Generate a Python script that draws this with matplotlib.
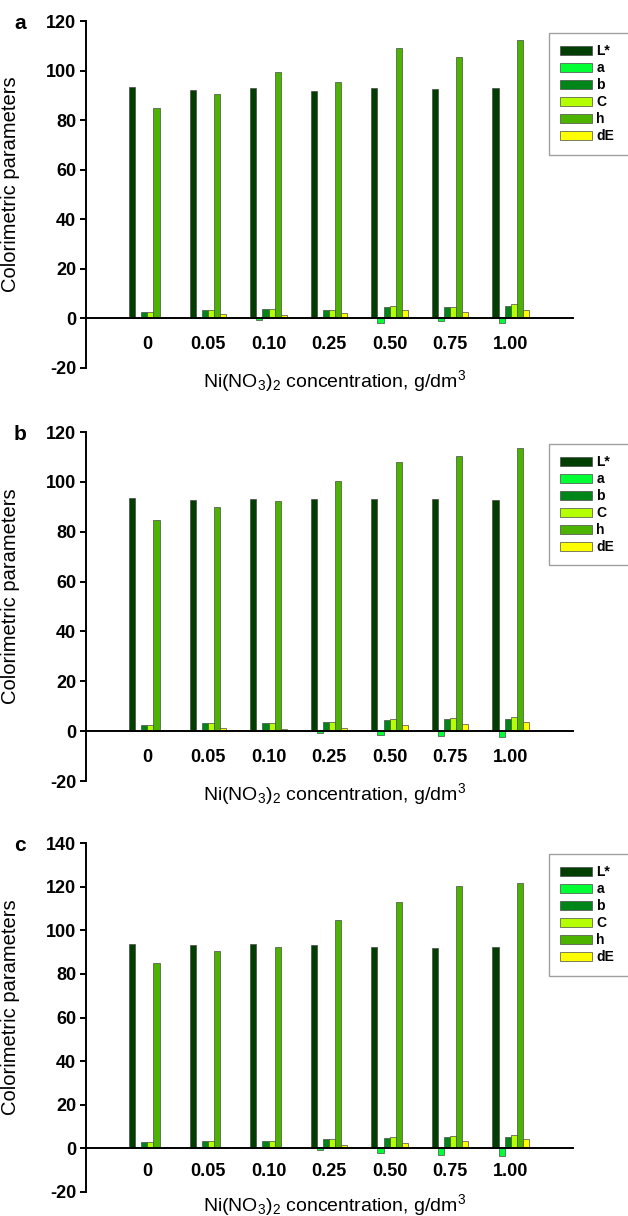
import numpy as np
import matplotlib
matplotlib.use("Agg")
import matplotlib.pyplot as plt

plt.rcParams["font.family"] = ["Liberation Sans", "DejaVu Sans"]
plt.rcParams["mathtext.default"] = "regular"
plt.rcParams["axes.unicode_minus"] = False

# concentrations of Ni(NO3)2, g/dm3
cats = ["0", "0.05", "0.10", "0.25", "0.50", "0.75", "1.00"]
params = ["L*", "a", "b", "C", "h", "dE"]
colors = ["#003f00", "#00ff33", "#008518", "#b4ff00", "#4cb400", "#ffff00"]

# panel a
L_a = [93.5, 92.1, 93.1, 91.7, 92.9, 92.6, 92.9]
a_a = [0.0, 0.0, -0.6, 0.0, -1.8, -1.2, -2.0]
b_a = [2.4, 3.3, 3.9, 3.2, 4.8, 4.6, 5.1]
C_a = [2.4, 3.3, 3.9, 3.2, 5.2, 4.7, 5.8]
h_a = [84.7, 90.4, 99.5, 95.5, 109.2, 105.3, 112.2]
dE_a = [0.0, 1.9, 1.5, 2.2, 3.2, 2.6, 3.6]

# panel b
L_b = [93.6, 92.8, 93.2, 93.2, 93.2, 93.3, 92.8]
a_b = [0.0, 0.0, 0.0, -0.8, -1.7, -1.9, -2.4]
b_b = [2.4, 3.2, 3.4, 3.8, 4.5, 4.8, 5.0]
C_b = [2.4, 3.2, 3.4, 3.8, 4.8, 5.2, 5.5]
h_b = [84.8, 90.0, 92.4, 100.2, 107.8, 110.3, 113.6]
dE_b = [0.0, 1.1, 0.8, 1.4, 2.4, 2.8, 3.5]

# panel c
L_c = [93.5, 93.3, 93.6, 93.3, 92.3, 91.9, 92.3]
a_c = [0.0, 0.0, 0.0, -0.9, -2.0, -3.2, -3.4]
b_c = [2.7, 3.5, 3.5, 4.2, 4.6, 5.0, 5.4]
C_c = [2.7, 3.5, 3.5, 4.4, 5.0, 5.8, 6.3]
h_c = [85.0, 90.3, 92.4, 104.7, 113.0, 120.4, 121.8]
dE_c = [0.0, 0.5, 0.6, 1.5, 2.3, 3.6, 4.3]

W, H = 628, 1216
fig = plt.figure(figsize=(W / 100, H / 100), dpi=100)

# (letter, series, ymax, top px, bottom px, legend top px)
panels = [
    ("a", [L_a, a_a, b_a, C_a, h_a, dE_a], 120, 21, 368, 33),
    ("b", [L_b, a_b, b_b, C_b, h_b, dE_b], 120, 432, 781, 444),
    ("c", [L_c, a_c, b_c, C_c, h_c, dE_c], 140, 843, 1192, 854),
]

x = np.arange(len(cats))
bw = 0.1

for letter, series, ymax, top, bot, leg_top in panels:
    ax = fig.add_axes([86 / W, 1 - bot / H, 487 / W, (bot - top) / H])
    for k, vals in enumerate(series):
        ax.bar(x + (k - 2.5) * bw, vals, bw, color=colors[k],
               edgecolor="#4a4a4a", linewidth=0.5, label=params[k])
    ax.set_xlim(-1.015, 7.03)
    ax.set_ylim(-20, ymax)
    ax.set_yticks(np.arange(-20, ymax + 1, 20))
    ax.set_xticks(x)
    ax.set_xticklabels(cats)
    for s in ["top", "right"]:
        ax.spines[s].set_visible(False)
    ax.spines["bottom"].set_position(("data", 0))
    ax.spines["bottom"].set_linewidth(1.4)
    ax.spines["left"].set_linewidth(1.4)
    px20 = (bot - top) / ((ymax + 20) / 20)
    ax.tick_params(axis="x", length=0, pad=(px20 / 2 - 7.5) * 0.72,
                   labelsize=13)
    ax.tick_params(axis="y", direction="out", length=4, width=1.4,
                   labelsize=13, pad=3)
    for t in ax.get_xticklabels() + ax.get_yticklabels():
        t.set_fontweight("bold")
    ax.set_ylabel("Colorimetric parameters", fontsize=14.5)
    ax.yaxis.set_label_coords(-0.135, 0.53)
    ax.set_xlabel(r"Ni(NO$_3$)$_2$ concentration, g/dm$^3$", fontsize=14)
    ax.xaxis.set_label_coords(0.51, 0.0)

    leg = ax.legend(loc="upper left",
                    bbox_to_anchor=(549 / W, 1 - (leg_top + 124) / H, 100 / W, 124 / H),
                    bbox_transform=fig.transFigure, mode="expand",
                    prop={"weight": "bold", "size": 10},
                    handlelength=2.3, handleheight=0.6, handletextpad=0.3,
                    labelspacing=0.22, borderpad=0.8, borderaxespad=0,
                    fancybox=False, frameon=True)
    leg.get_frame().set_edgecolor("#888888")
    leg.get_frame().set_linewidth(1.0)

    fig.text(20 / W, 1 - (top + 8) / H, letter, fontsize=15,
             fontweight="bold", ha="center", va="baseline")

fig.savefig("out.png", dpi=100)
